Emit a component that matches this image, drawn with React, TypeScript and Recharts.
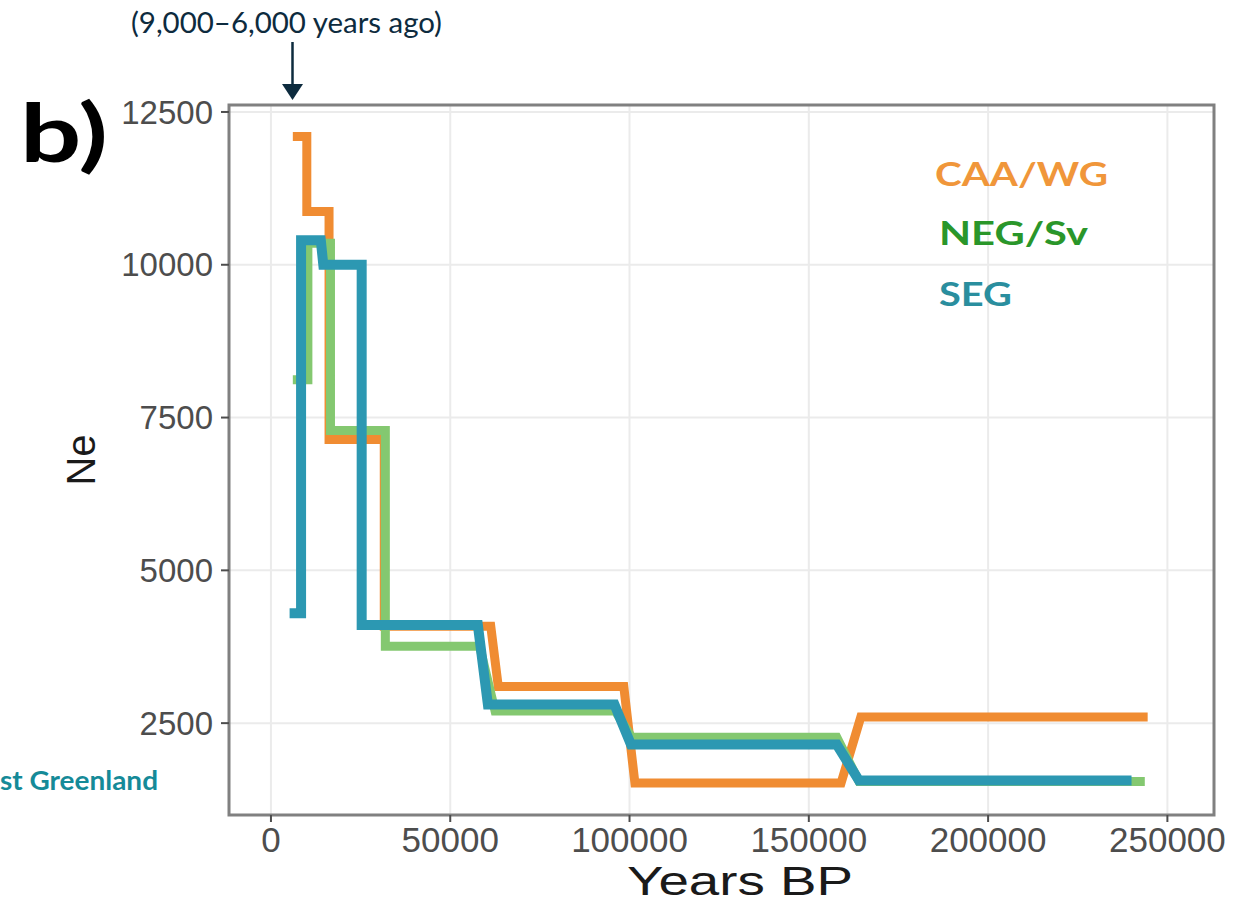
import React from 'react';
import {
  LineChart,
  Line,
  XAxis,
  YAxis,
  CartesianGrid,
  ReferenceArea,
  Label
} from 'recharts';

// Ne through time (years BP / Ne)
const yearsCAA = [6100, 10000, 10000, 16200, 16200, 31600, 31600, 61300, 63400, 98400, 101500, 159000, 164500, 244500];
const neCAA = [12100, 12100, 10870, 10870, 7140, 7140, 4085, 4085, 3100, 3100, 1520, 1520, 2600, 2600];

const yearsNEG = [6100, 10300, 10300, 16600, 16600, 31900, 31900, 58200, 62500, 96000, 100600, 157800, 164000, 243700];
const neNEG = [8120, 8120, 10350, 10350, 7290, 7290, 3760, 3760, 2700, 2700, 2270, 2270, 1545, 1545];

const yearsSEG = [5200, 8400, 8400, 13900, 14600, 25300, 25300, 57700, 60500, 95800, 100400, 157800, 164000, 240000];
const neSEG = [4300, 4300, 10400, 10400, 10000, 10000, 4105, 4105, 2805, 2805, 2150, 2150, 1560, 1560];

const xTicks = [0, 50000, 100000, 150000, 200000, 250000];
const yTicks = [2500, 5000, 7500, 10000, 12500];
const xDomain = [-11700, 263000];
const yDomain = [997, 12614];

const seriesNames = ['CAA/WG', 'NEG/Sv', 'SEG'];
const lineColors = ['#F08C32', '#84C870', '#2C98B2'];
const textColors = ['#F0963A', '#2A962A', '#2A8E9E'];

const toRows = (years: number[], ne: number[]) => years.map((year, i) => ({ year, ne: ne[i] }));

const dataCAA = toRows(yearsCAA, neCAA);
const dataNEG = toRows(yearsNEG, neNEG);
const dataSEG = toRows(yearsSEG, neSEG);

const tickStyle = { fontSize: 33, fill: '#4d4d4d', fontFamily: '"Liberation Sans", Arial, sans-serif' };

const App: React.FC = () => {
  return (
    <div style={{ position: 'absolute', left: 0, top: 0, width: 1248, height: 905, background: '#fff', overflow: 'hidden' }}>
      <LineChart
        width={1226}
        height={905}
        margin={{ top: 105, right: 12, bottom: 0, left: 0 }}
      >
        <CartesianGrid stroke="#ebebeb" strokeWidth={2} />
        <XAxis
          type="number"
          dataKey="year"
          domain={xDomain}
          ticks={xTicks}
          allowDataOverflow
          height={90}
          axisLine={false}
          tickSize={7}
          tickMargin={5}
          tickLine={{ stroke: '#4d4d4d', strokeWidth: 2 }}
          tick={{ ...tickStyle, fontSize: 35 }}
        >
          <Label
            content={() => (
              <text
                x={627}
                y={895}
                textLength={226}
                lengthAdjust="spacingAndGlyphs"
                fontSize={41}
                fill="#1a1a1a"
                fontFamily='"Liberation Sans", Arial, sans-serif'
              >
                Years BP
              </text>
            )}
          />
        </XAxis>
        <YAxis
          type="number"
          domain={yDomain}
          ticks={yTicks}
          allowDataOverflow
          width={229}
          axisLine={false}
          tickSize={8}
          tickMargin={8}
          tickLine={{ stroke: '#4d4d4d', strokeWidth: 2 }}
          tick={tickStyle}
        >
          <Label
            content={() => (
              <text
                x={95}
                y={460}
                transform="rotate(-90 95 460)"
                textAnchor="middle"
                fontSize={40}
                fill="#1a1a1a"
                fontFamily='"Liberation Sans", Arial, sans-serif'
              >
                Ne
              </text>
            )}
          />
        </YAxis>
        <ReferenceArea
          x1={xDomain[0]}
          x2={xDomain[1]}
          y1={yDomain[0]}
          y2={yDomain[1]}
          fill="none"
          stroke="#808080"
          strokeWidth={3}
        />
        <Line data={dataCAA} dataKey="ne" name={seriesNames[0]} type="linear" stroke={lineColors[0]} strokeWidth={9} strokeLinejoin="miter" dot={false} activeDot={false} isAnimationActive={false} />
        <Line data={dataNEG} dataKey="ne" name={seriesNames[1]} type="linear" stroke={lineColors[1]} strokeWidth={9} strokeLinejoin="miter" dot={false} activeDot={false} isAnimationActive={false} />
        <Line data={dataSEG} dataKey="ne" name={seriesNames[2]} type="linear" stroke={lineColors[2]} strokeWidth={10} strokeLinejoin="miter" dot={false} activeDot={false} isAnimationActive={false} />
      </LineChart>

      {/* annotations drawn over the chart */}
      <svg width={1248} height={905} style={{ position: 'absolute', left: 0, top: 0, pointerEvents: 'none' }}>
        <text x={131} y={33} textLength={311} lengthAdjust="spacingAndGlyphs" fontSize={28} fill="#0d2b3e" fontFamily="Lato, sans-serif">
          (9,000–6,000 years ago)
        </text>
        <line x1={292.5} y1={42} x2={292.5} y2={86} stroke="#0d2b3e" strokeWidth={2.5} />
        <polygon points="282,84 303,84 292.5,100" fill="#0d2b3e" />

        <text x={20} y={162} textLength={88} lengthAdjust="spacingAndGlyphs" fontSize={80} fontWeight="bold" fill="#000" fontFamily="Lato, sans-serif">
          b)
        </text>

        {seriesNames.map((name, i) => (
          <text
            key={name}
            x={[935, 939, 939][i]}
            y={[186, 245, 306][i]}
            textLength={[173, 149, 73][i]}
            lengthAdjust="spacingAndGlyphs"
            fontSize={33}
            fontWeight="bold"
            fill={textColors[i]}
            fontFamily="Lato, sans-serif"
          >
            {name}
          </text>
        ))}

        <text x={0} y={790} textLength={158} lengthAdjust="spacingAndGlyphs" fontSize={27} fontWeight="bold" fill="#158A98" fontFamily="Lato, sans-serif">
          st Greenland
        </text>
      </svg>
    </div>
  );
};

export default App;
